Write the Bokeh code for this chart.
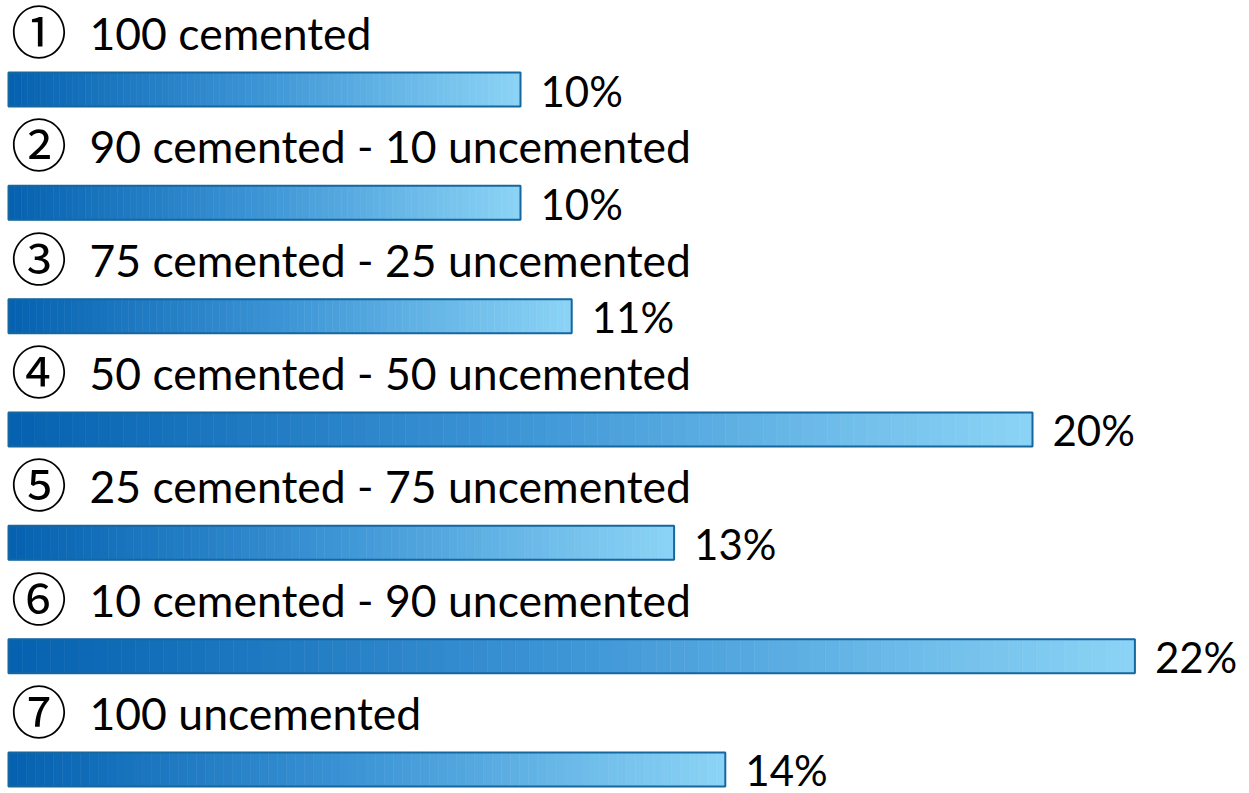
from bokeh.plotting import figure
from bokeh.models import Range1d, ColumnDataSource
from bokeh.core.properties import value
from bokeh.embed import file_html
from bokeh.resources import INLINE

markers = ["①", "②", "③", "④", "⑤", "⑥", "⑦"]
labels = ["100 cemented", "90 cemented - 10 uncemented", "75 cemented - 25 uncemented",
          "50 cemented - 50 uncemented", "25 cemented - 75 uncemented",
          "10 cemented - 90 uncemented", "100 uncemented"]
values = [10, 10, 11, 20, 13, 22, 14]

W, H = 1249, 793
PX_PER_UNIT = 51.2
LEFT_PX = 8
ROW_PX = 113.33
FIRST_CENTER = 89.0

x_start = -LEFT_PX / PX_PER_UNIT
x_end = (W - LEFT_PX) / PX_PER_UNIT
y_top = -FIRST_CENTER / ROW_PX
y_bot = (H - FIRST_CENTER) / ROW_PX

p = figure(width=W, height=H, output_backend="svg", toolbar_location=None,
           x_range=Range1d(x_start, x_end), y_range=Range1d(y_bot, y_top),
           min_border=0, min_border_left=0, min_border_right=0,
           min_border_top=0, min_border_bottom=0)
p.axis.visible = False
p.grid.visible = False
p.outline_line_color = None
p.background_fill_color = "white"
p.border_fill_color = "white"

stops = [(0.0, (5, 97, 176)), (0.5, (62, 150, 214)), (1.0, (140, 212, 246))]

def color_at(t):
    for (t0, c0), (t1, c1) in zip(stops[:-1], stops[1:]):
        if t <= t1:
            f = (t - t0) / (t1 - t0)
            return "#%02x%02x%02x" % tuple(int(round(a + (b - a) * f)) for a, b in zip(c0, c1))
    return "#%02x%02x%02x" % stops[-1][1]

N = 80
seg = dict(left=[], right=[], y=[], color=[])
for i, v in enumerate(values):
    for k in range(N):
        seg["left"].append(v * k / N)
        seg["right"].append(v * (k + 1) / N)
        seg["y"].append(i)
        seg["color"].append(color_at((k + 0.5) / N))

bar_h = 34 / ROW_PX
p.hbar(y="y", left="left", right="right", height=bar_h, fill_color="color",
       line_color="color", line_width=0.6, source=ColumnDataSource(seg))

rows = list(range(len(values)))
src = ColumnDataSource(dict(y=rows, v=values, zero=[0] * len(values),
                            lab=labels, mk=markers,
                            pct=[f"{v}%" for v in values]))
p.hbar(y="y", left="zero", right="v", height=bar_h, fill_color=None,
       line_color="#17679f", line_width=2, source=src)

p.text(x="zero", y="y", text="mk", x_offset=30.5, y_offset=-61,
       text_align="center", text_baseline="middle", text_font_size="56px",
       text_font=value("Noto Sans CJK JP"), text_color="black", source=src)
p.text(x="zero", y="y", text="lab", x_offset=81, y_offset=-57,
       text_align="left", text_baseline="alphabetic", text_font_size="44.5px",
       text_font=value("Lato"), text_color="black", source=src)
p.text(x="v", y="y", text="pct", x_offset=20, y_offset=1,
       text_align="left", text_baseline="alphabetic", text_font_size="42px",
       text_font=value("Lato"), text_color="black", source=src)

open("out.html", "w").write(file_html(p, INLINE))
